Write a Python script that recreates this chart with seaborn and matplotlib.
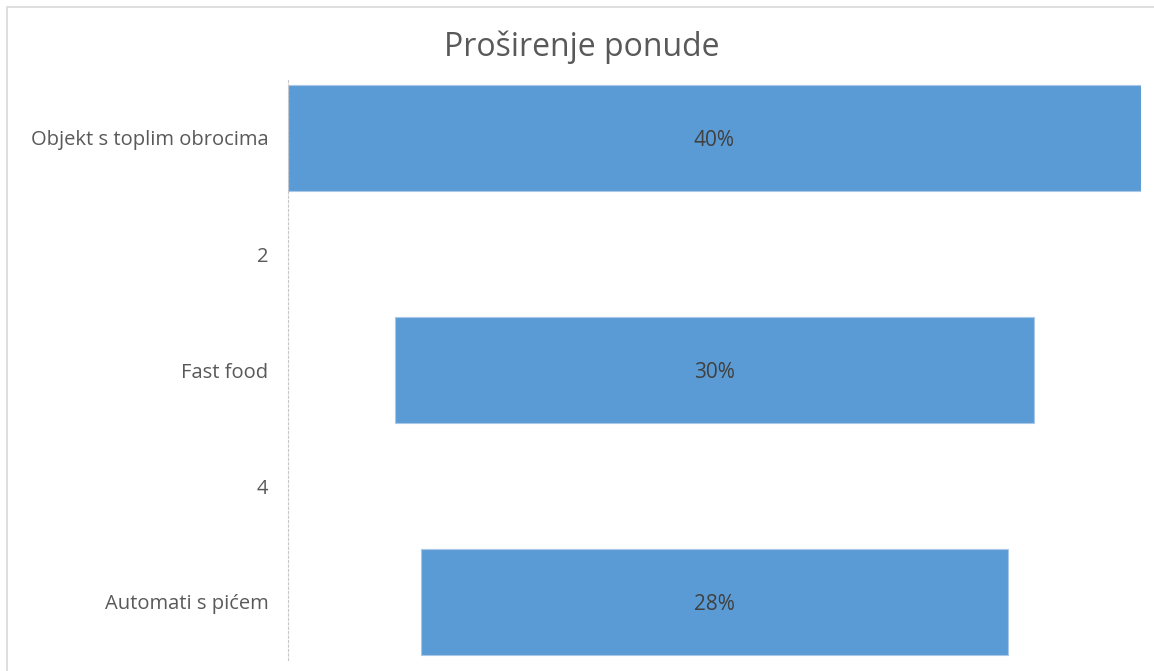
import numpy as np
import matplotlib.pyplot as plt
from matplotlib.lines import Line2D
import seaborn as sns

# funnel data (Excel style, centred bars)
categories = ['Objekt s toplim obrocima', '2', 'Fast food', '4', 'Automati s pićem']
values = [40, np.nan, 30, np.nan, 27.5]
labels = ['40%', '', '30%', '', '28%']

sns.set_theme(style='white')
plt.rcParams['font.family'] = ['Open Sans', 'DejaVu Sans']

fig = plt.figure(figsize=(11.54, 6.71), dpi=100)
ax = fig.add_axes([288 / 1154, 11 / 671, (1141 - 288) / 1154, 580 / 671])

vals = np.array(values, dtype=float)
vmax = np.nanmax(vals)
ypos = np.arange(len(categories))
mask = ~np.isnan(vals)
ax.barh(ypos[mask], vals[mask], left=(vmax - vals[mask]) / 2, height=0.92,
        color='#5B9BD5', edgecolor='#A9C8E8', linewidth=0.8)

for y, v, lab in zip(ypos, vals, labels):
    if not np.isnan(v):
        ax.text(vmax / 2, y, lab, ha='center', va='center_baseline',
                fontsize=15, color='#404040')

ax.set_xlim(0, vmax)
ax.set_ylim(len(categories) - 0.5, -0.5)
ax.set_yticks(ypos)
ax.set_yticklabels(categories, fontsize=14.5, color='#595959')
ax.set_xticks([])
ax.tick_params(axis='y', length=0, pad=14)
for s in ['top', 'right', 'bottom']:
    ax.spines[s].set_visible(False)
ax.spines['left'].set_color('#C8C8C8')
ax.spines['left'].set_linestyle((0, (2, 2)))
ax.spines['left'].set_linewidth(0.8)

fig.text(582 / 1154, 1 - 56 / 671, 'Proširenje ponude', ha='center', va='baseline',
         fontsize=23, color='#595959')

# chart area border (top and left edges only visible)
fig.add_artist(Line2D([7 / 1154, 1], [1 - 7 / 671, 1 - 7 / 671], transform=fig.transFigure,
                      color='#D9D9D9', linewidth=1.2))
fig.add_artist(Line2D([7 / 1154, 7 / 1154], [0, 1 - 7 / 671], transform=fig.transFigure,
                      color='#D9D9D9', linewidth=1.2))

fig.savefig('out.png', dpi=100)
